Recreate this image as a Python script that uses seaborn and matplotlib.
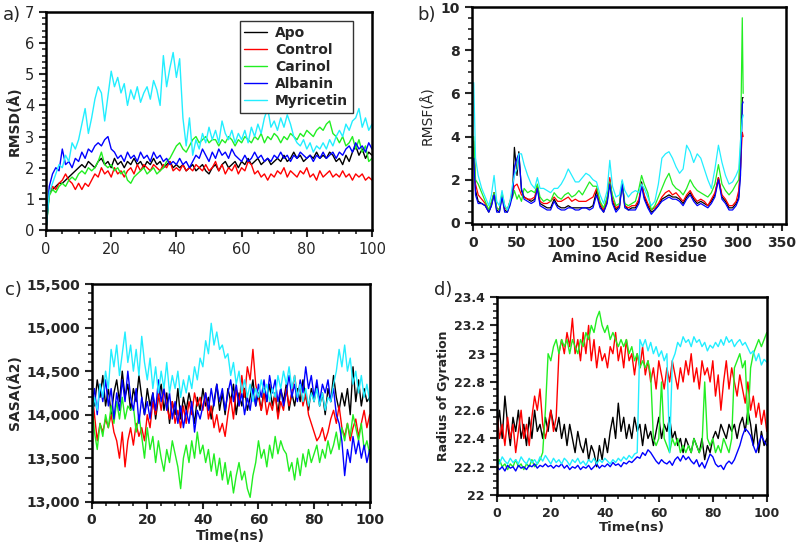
import numpy as np
import pandas as pd
import matplotlib
matplotlib.use("Agg")
import matplotlib.pyplot as plt
from matplotlib.ticker import MultipleLocator, FuncFormatter
import seaborn as sns

# ---- data ----
systems = ["Apo", "Control", "Carinol", "Albanin", "Myricetin"]
colors = ["#000000", "#ff0000", "#22ee22", "#0000ff", "#22eeff"]

time_ns = list(range(0, 101))

rmsd_apo = [0.0,1.2,1.3,1.4,1.5,1.5,1.6,1.7,1.8,1.9,2.0,2.1,2.0,2.2,2.1,2.0,2.2,2.3,2.1,2.2,
            2.0,2.3,2.1,2.2,2.0,2.2,2.1,2.3,2.1,2.2,2.0,2.2,2.1,2.3,2.1,2.2,2.0,2.1,2.2,2.0,
            2.1,2.0,2.1,1.9,2.0,2.1,1.9,2.0,2.1,1.9,1.8,2.0,2.1,1.9,2.1,2.2,2.0,2.1,2.2,2.0,
            2.2,2.1,2.3,2.1,2.2,2.3,2.1,2.2,2.3,2.1,2.2,2.3,2.2,2.4,2.2,2.3,2.5,2.3,2.4,2.2,
            2.3,2.4,2.3,2.5,2.3,2.4,2.3,2.5,2.4,2.2,2.3,2.1,2.4,2.2,2.5,2.7,2.4,2.6,2.3,2.5,2.4]
rmsd_control = [0.0,1.2,1.4,1.3,1.5,1.6,1.8,1.6,1.5,1.3,1.5,1.3,1.5,1.4,1.6,1.8,1.7,2.0,1.8,1.9,
                1.7,2.0,1.8,1.9,1.7,1.9,2.0,1.8,2.1,1.9,2.1,2.0,1.9,2.1,2.0,1.9,2.1,2.0,2.2,1.9,
                2.0,1.9,2.1,1.9,2.0,1.9,2.1,2.0,1.9,2.1,1.9,2.0,2.2,1.9,2.1,1.8,2.0,1.9,2.1,1.8,
                2.0,1.9,2.2,2.1,1.8,1.9,1.7,1.8,1.6,1.8,1.7,1.9,1.8,2.0,1.7,1.9,1.8,1.7,1.9,1.8,
                2.0,1.7,1.8,1.6,1.9,1.7,1.8,1.9,1.7,1.8,1.7,1.9,1.7,1.8,1.6,1.8,1.7,1.8,1.6,1.7,1.6]
rmsd_carinol = [0.0,1.1,1.3,1.2,1.4,1.5,1.4,1.6,1.7,1.6,1.8,1.9,1.8,2.0,1.9,2.0,2.2,2.5,2.1,2.0,
                2.1,1.9,2.0,1.8,1.9,1.6,1.5,1.7,1.8,1.9,2.0,1.8,1.9,2.0,1.8,1.9,2.0,2.2,2.3,2.5,
                2.7,2.8,2.6,2.5,2.7,2.9,3.0,2.8,2.9,3.0,2.8,2.9,2.9,2.7,2.9,2.8,3.0,2.9,2.7,2.9,
                2.8,3.0,2.9,2.8,3.0,2.9,3.1,2.8,3.0,2.9,3.1,3.0,2.8,3.0,2.9,3.1,3.0,2.9,3.1,3.0,
                3.2,3.1,3.0,3.2,3.3,3.2,3.4,3.5,3.1,3.0,2.8,3.0,2.7,2.8,3.0,2.6,2.9,2.5,2.7,2.2,2.3]
rmsd_albanin = [0.0,1.4,1.8,2.0,1.9,2.6,2.1,2.2,2.0,2.3,2.2,2.5,2.3,2.6,2.5,2.7,2.8,2.7,2.9,3.0,
                2.6,2.5,2.3,2.4,2.2,2.5,2.3,2.4,2.2,2.5,2.3,2.4,2.2,2.5,2.3,2.4,2.2,2.3,2.1,2.2,
                2.1,2.3,2.1,2.2,2.0,2.2,2.4,2.3,2.6,2.4,2.2,2.5,2.3,2.6,2.4,2.5,2.3,2.6,2.4,2.3,
                2.2,2.4,2.2,2.3,2.5,2.3,2.4,2.2,2.3,2.2,2.4,2.3,2.5,2.3,2.4,2.2,2.4,2.3,2.5,2.4,
                2.3,2.4,2.2,2.4,2.3,2.5,2.3,2.4,2.5,2.3,2.5,2.4,2.6,2.7,2.5,2.8,2.6,2.7,2.5,2.8,2.6]
rmsd_myricetin = [0.0,1.2,1.5,1.8,2.1,2.0,2.4,2.2,2.8,2.6,2.9,3.4,3.9,3.1,3.6,4.2,4.6,4.4,3.5,4.3,
                  5.1,4.6,4.9,4.4,4.7,4.0,4.5,4.2,4.6,4.1,4.4,4.6,4.2,4.8,4.5,4.0,5.6,4.6,5.2,5.7,
                  4.9,5.5,3.6,2.7,3.6,2.4,2.9,2.6,3.1,2.8,3.3,2.9,3.2,2.8,3.5,3.1,2.9,3.2,2.8,3.1,
                  2.9,3.2,2.8,3.3,3.0,3.4,3.1,3.6,3.9,3.3,3.5,3.2,3.6,3.3,3.7,3.4,3.0,2.8,2.7,2.9,
                  2.6,2.8,2.5,2.7,2.6,2.8,2.6,2.9,2.7,3.0,3.2,3.0,3.4,3.2,3.5,3.6,3.9,3.3,3.6,3.2,3.4]

residue = [1,3,6,10,14,18,21,24,27,30,33,36,39,42,45,47,50,52,55,58,
           62,66,70,73,76,80,84,88,92,96,100,104,108,112,116,120,124,128,132,136,
           140,144,148,152,155,158,162,166,169,172,176,180,184,188,191,194,198,202,206,210,
           214,218,222,226,230,234,238,242,246,250,254,258,262,266,270,274,278,282,286,290,
           294,298,301,303,305,306]
rmsf_apo = [3.5,1.5,1.0,0.9,0.8,0.5,0.8,1.4,0.6,0.5,1.3,0.6,0.5,0.9,1.5,3.5,2.2,3.3,1.5,1.2,
            1.1,1.0,1.1,1.7,0.9,0.8,0.7,0.7,1.1,0.8,0.7,0.7,0.8,0.7,0.7,0.7,0.7,0.7,0.7,0.8,
            1.5,0.8,0.5,1.0,2.0,1.0,0.6,0.8,1.9,0.8,0.6,0.7,0.7,1.0,1.9,1.2,0.8,0.5,0.6,0.8,
            1.1,1.2,1.3,1.2,1.2,1.1,0.9,1.2,1.4,1.1,0.9,1.0,0.9,0.8,1.0,1.3,2.1,1.2,1.0,0.7,
            0.7,0.9,1.2,2.5,5.8,5.8]
rmsf_control = [3.8,1.8,1.3,1.1,0.9,0.6,0.9,1.4,0.7,0.6,1.3,0.7,0.6,1.0,1.4,1.7,1.8,1.6,1.3,1.2,
                1.1,1.1,1.2,1.7,1.0,0.9,0.9,1.0,1.2,1.0,1.0,1.1,1.2,1.0,1.1,1.0,1.0,1.0,1.1,1.2,
                1.6,0.9,0.6,1.1,2.1,1.1,0.7,0.8,1.9,0.8,0.7,0.8,0.8,1.1,1.8,1.3,0.9,0.6,0.7,0.9,
                1.2,1.4,1.5,1.3,1.4,1.2,1.0,1.3,1.5,1.2,1.0,1.1,1.0,0.8,1.1,1.4,2.1,1.3,1.1,0.8,
                0.8,1.0,1.5,2.6,4.2,4.0]
rmsf_carinol = [4.0,2.0,1.8,1.4,1.0,0.6,1.0,1.4,0.7,0.6,1.4,0.8,0.6,1.0,1.2,1.5,1.1,1.3,1.0,1.6,
                1.4,1.5,1.4,1.8,1.2,1.0,1.1,1.0,1.4,1.2,1.1,1.3,1.4,1.2,1.3,1.5,1.3,1.6,1.9,1.7,
                1.7,1.0,0.7,1.2,1.9,1.3,0.8,0.9,1.9,0.9,0.8,0.9,1.0,1.6,2.2,1.8,1.4,0.6,0.8,1.2,
                1.6,2.0,2.3,1.8,1.6,1.5,1.3,1.6,2.0,1.7,1.5,1.4,1.3,1.2,1.4,1.8,2.7,1.8,1.5,1.3,
                1.5,1.8,2.0,3.5,9.5,6.0]
rmsf_albanin = [3.0,1.3,0.9,0.9,0.8,0.5,0.8,1.3,0.5,0.5,1.2,0.5,0.5,0.8,1.3,2.6,3.0,3.2,1.6,1.1,
                1.0,0.9,1.0,1.6,0.8,0.7,0.6,0.6,1.0,0.7,0.6,0.6,0.7,0.7,0.6,0.6,0.7,0.7,0.6,0.7,
                1.3,0.7,0.5,0.9,1.8,0.9,0.5,0.7,1.8,0.7,0.6,0.6,0.6,0.9,1.7,1.1,0.7,0.4,0.6,0.8,
                1.0,1.1,1.2,1.1,1.1,1.0,0.8,1.1,1.3,1.0,0.8,0.9,0.8,0.7,0.9,1.2,2.0,1.1,0.9,0.6,
                0.6,0.8,1.1,2.2,5.5,5.6]
rmsf_myricetin = [6.5,3.0,2.2,1.6,1.2,0.8,1.3,2.2,1.0,0.8,1.5,0.8,0.6,1.0,1.8,2.2,2.5,3.2,3.2,2.7,
                  2.2,1.8,1.6,2.1,1.6,1.6,1.5,1.4,1.6,1.6,1.8,2.1,2.5,2.2,1.9,1.9,2.1,2.3,2.2,2.0,
                  1.9,1.3,0.9,1.5,2.9,1.7,1.2,1.3,2.0,1.5,1.2,1.4,1.5,1.4,1.8,1.6,1.2,0.8,1.0,1.8,
                  3.0,3.2,3.3,3.0,2.6,2.3,2.5,3.6,3.3,2.8,3.2,3.0,2.5,2.0,1.6,2.5,3.6,2.8,2.2,1.8,
                  1.9,2.2,2.5,3.8,4.8,5.0]

sasa_apo = [14300,14100,14400,14200,14450,14100,14300,14000,14250,14400,14150,14500,14200,14350,14050,14300,14150,14450,14200,14000,
            14300,14100,14250,13950,14200,14350,14050,14250,13900,14150,14000,14300,13950,14200,14050,14250,14100,13900,14200,14050,
            14300,14100,14200,13950,14150,14350,14050,14250,14000,14300,14150,14350,14000,14250,14100,14300,14050,14200,14400,14100,
            14250,14050,14300,14150,14350,14100,14250,14000,14300,14150,14350,14050,14250,14100,14300,14150,14400,14200,14050,14300,
            14150,14350,14100,14250,14000,14300,14150,14450,14200,14050,14250,14100,14300,14000,14550,14150,14400,14100,14300,14150,14200]
sasa_control = [14300,14000,13700,13900,13800,13950,13850,14000,13800,13700,13500,13800,13400,13700,13850,13650,13900,13750,13850,13700,
                14000,13850,14150,14000,14250,14050,14300,14100,13950,14150,13900,14050,13850,14100,13900,14150,14000,14250,14100,14200,
                14050,14250,13950,14100,13850,14000,13800,13900,13750,14000,14200,13950,14300,14100,14450,14200,14550,14400,14750,14350,
                14200,14050,14250,14000,14150,14050,14250,13950,14150,14050,14300,14100,14250,14450,14200,14350,14100,14250,14000,13900,
                13800,13700,13750,13850,13700,13800,13950,14050,13900,14100,13850,13750,13900,13700,13850,13950,13750,13900,14050,13850,14000]
sasa_carinol = [14200,13800,13600,13900,13750,14000,13850,14100,13900,14150,13950,14200,13950,14100,14050,14100,13800,14000,13750,13500,
                13850,13600,13750,13450,13700,13500,13350,13600,13450,13700,13550,13400,13150,13500,13650,13450,13700,13500,13800,13550,
                13650,13450,13600,13350,13550,13300,13500,13250,13450,13200,13350,13100,13300,13450,13250,13350,13150,13050,13300,13450,
                13700,13500,13600,13400,13650,13500,13750,13550,13700,13600,13550,13350,13450,13250,13500,13300,13550,13400,13600,13450,
                13550,13650,13450,13600,13500,13700,13550,13650,13800,13600,13850,13700,13900,13750,14000,13850,13700,13900,13600,13700,13550]
sasa_albanin = [14100,14300,14000,14350,14150,14400,14100,14300,13950,14250,14050,14400,14150,14500,14200,14050,14300,13900,14200,14000,
                14150,13950,14250,14050,14400,14150,14300,14050,14250,13950,14150,13900,14100,13850,14050,13900,14150,13800,14050,13950,
                14100,14250,14050,14300,14100,14350,14150,14300,14050,14250,14400,14150,14350,14100,14250,14000,14200,14050,14300,14100,
                14350,14200,14400,14150,14450,14250,14400,14150,14300,14100,14250,14450,14200,14350,14150,14400,14250,14550,14300,14450,
                14200,14400,14150,14350,14250,14400,14150,14300,14000,13900,13700,13300,13600,13450,13750,13550,13700,13500,13650,13450,13600]
sasa_myricetin = [13900,14200,14050,14350,14200,14500,14300,14750,14550,14800,14450,14700,14950,14600,14800,14500,14750,14450,14900,14600,
                  14400,14650,14300,14550,14250,14500,14300,14600,14250,14450,14300,14500,14200,14400,14250,14450,14300,14550,14400,14650,
                  14550,14850,14700,15050,14800,14950,14750,14800,14650,14700,14450,14600,14350,14500,14250,14400,14200,14350,14150,14300,
                  14200,14400,14250,14350,14150,14300,14200,14450,14300,14500,14350,14550,14300,14450,14200,14350,14150,14300,14100,14250,
                  14150,14300,14100,14250,14050,14200,14150,14350,14500,14750,14550,14800,14500,14650,14350,14500,14250,14450,14200,14350,14150]

rg_apo = [22.45,22.6,22.4,22.7,22.5,22.35,22.55,22.45,22.6,22.4,22.5,22.35,22.55,22.4,22.6,22.45,22.5,22.4,22.55,22.45,
          22.6,22.5,22.45,22.55,22.4,22.5,22.35,22.5,22.4,22.3,22.45,22.35,22.3,22.4,22.25,22.35,22.3,22.2,22.35,22.25,
          22.4,22.3,22.45,22.55,22.4,22.65,22.45,22.55,22.4,22.5,22.4,22.55,22.45,22.5,22.35,22.5,22.4,22.45,22.35,22.45,
          22.55,22.4,22.5,22.45,22.55,22.4,22.45,22.35,22.4,22.3,22.4,22.35,22.3,22.4,22.35,22.3,22.4,22.25,22.35,22.3,
          22.4,22.45,22.4,22.5,22.45,22.4,22.5,22.45,22.5,22.4,22.5,22.55,22.45,22.6,22.5,22.35,22.5,22.3,22.45,22.35,22.4]
rg_control = [22.6,22.4,22.5,22.35,22.55,22.4,22.5,22.3,22.45,22.6,22.4,22.5,22.35,22.55,22.7,22.6,22.75,22.5,22.4,22.5,
              22.6,22.45,22.55,23.0,23.1,23.0,23.15,23.05,23.25,23.0,23.1,22.95,23.15,23.0,23.2,22.95,23.1,22.9,23.05,22.95,
              23.0,22.9,23.05,23.0,23.15,22.95,23.05,22.9,23.1,22.95,23.0,22.85,23.0,22.9,23.05,22.85,22.95,22.8,22.9,22.75,
              22.95,22.85,22.75,22.9,22.8,22.95,22.85,22.75,22.9,22.8,22.95,22.85,23.0,22.8,22.9,22.75,22.95,22.85,22.9,22.8,
              22.95,22.7,22.85,22.6,22.8,22.95,22.75,22.9,22.8,22.7,22.85,22.75,22.65,22.8,22.6,22.7,22.55,22.65,22.5,22.6,22.45]
rg_carinol = [22.2,22.25,22.2,22.22,22.18,22.22,22.2,22.25,22.2,22.22,22.18,22.22,22.2,22.25,22.2,22.22,22.25,22.3,22.6,23.0,
              22.95,23.05,23.1,23.0,23.1,23.05,23.1,23.0,23.1,23.05,23.0,23.1,23.05,23.15,23.1,23.2,23.15,23.25,23.3,23.2,
              23.15,23.2,23.1,23.15,23.1,23.05,23.1,23.05,23.1,23.0,23.05,22.95,23.0,22.9,22.95,22.9,22.95,22.85,22.4,22.35,
              22.4,22.8,22.4,22.35,22.3,22.4,22.35,22.4,22.3,22.35,22.3,22.35,22.3,22.4,22.35,22.3,22.35,22.8,22.4,22.35,
              22.4,22.3,22.35,22.3,22.4,22.35,22.3,22.4,22.9,22.95,23.0,22.9,22.95,22.5,22.9,23.0,23.05,23.1,23.05,23.1,23.15]
rg_albanin = [22.2,22.18,22.2,22.17,22.21,22.19,22.2,22.17,22.21,22.19,22.2,22.18,22.21,22.2,22.22,22.19,22.21,22.2,22.22,22.2,
              22.21,22.19,22.21,22.2,22.22,22.19,22.21,22.18,22.2,22.19,22.21,22.18,22.2,22.19,22.21,22.18,22.2,22.22,22.19,22.21,
              22.2,22.22,22.2,22.23,22.21,22.22,22.2,22.23,22.22,22.24,22.23,22.25,22.27,22.26,22.3,22.28,22.32,22.3,22.27,22.24,
              22.22,22.25,22.23,22.22,22.24,22.21,22.25,22.27,22.24,22.28,22.25,22.27,22.24,22.22,22.25,22.2,22.23,22.19,22.24,22.29,
              22.27,22.22,22.2,22.21,22.18,22.22,22.24,22.22,22.25,22.3,22.35,22.42,22.47,22.45,22.42,22.35,22.3,22.36,22.42,22.38,22.35]
rg_myricetin = [22.25,22.22,22.27,22.24,22.22,22.26,22.23,22.25,22.22,22.27,22.24,22.22,22.26,22.23,22.25,22.22,22.27,22.24,22.28,22.25,
                22.22,22.26,22.23,22.25,22.22,22.26,22.24,22.21,22.25,22.23,22.26,22.22,22.24,22.21,22.25,22.23,22.26,22.22,22.25,22.23,
                22.26,22.24,22.22,22.25,22.23,22.26,22.24,22.27,22.25,22.28,22.26,22.29,22.3,23.1,23.05,23.1,23.02,23.08,23.0,23.05,
                22.98,23.02,22.95,23.0,22.3,22.95,23.0,23.08,23.05,23.12,23.08,23.1,23.05,23.12,23.08,23.1,23.05,23.08,23.02,23.06,
                23.04,23.08,23.05,23.1,23.06,23.12,23.08,23.1,23.05,23.08,23.1,23.06,23.08,23.04,23.0,23.02,22.95,23.0,22.92,22.96,22.94]


def long_table(x, series, xname, yname):
    frames = []
    for name, vals in zip(systems, series):
        frames.append(pd.DataFrame({xname: x, yname: vals, "System": name}))
    return pd.concat(frames, ignore_index=True)


df_rmsd = long_table(time_ns, [rmsd_apo, rmsd_control, rmsd_carinol, rmsd_albanin, rmsd_myricetin], "Time", "RMSD")
df_rmsf = long_table(residue, [rmsf_apo, rmsf_control, rmsf_carinol, rmsf_albanin, rmsf_myricetin], "Residue", "RMSF")
df_sasa = long_table(time_ns, [sasa_apo, sasa_control, sasa_carinol, sasa_albanin, sasa_myricetin], "Time", "SASA")
df_rg = long_table(time_ns, [rg_apo, rg_control, rg_carinol, rg_albanin, rg_myricetin], "Time", "Rg")

sns.set_style("ticks")
plt.rcParams['font.family'] = ['DejaVu Sans']
pal = dict(zip(systems, colors))

fig = plt.figure(figsize=(8, 5.48), dpi=100)
ax_a = fig.add_axes([0.0575, 0.5803, 0.4075, 0.3978])
ax_b = fig.add_axes([0.5900, 0.5912, 0.3925, 0.3960])
ax_c = fig.add_axes([0.1146, 0.0845, 0.3475, 0.3970])
ax_d = fig.add_axes([0.6210, 0.0967, 0.3375, 0.3610])


def style_axes(ax, bold_ticks=True, size=10):
    for sp in ax.spines.values():
        sp.set_visible(True)
        sp.set_linewidth(1.8)
        sp.set_color("black")
    ax.tick_params(which="major", direction="out", length=5, width=1.5, labelsize=size, top=False, right=False)
    ax.tick_params(which="minor", direction="out", length=3, width=1.2, top=False, right=False)
    for lab in ax.get_xticklabels() + ax.get_yticklabels():
        lab.set_fontweight("bold" if bold_ticks else "normal")


# a) RMSD
sns.lineplot(data=df_rmsd, x="Time", y="RMSD", hue="System", palette=pal, lw=1.0,
             estimator=None, sort=False, ax=ax_a)
ax_a.set_xlim(0, 100)
ax_a.set_ylim(0, 7)
ax_a.xaxis.set_major_locator(MultipleLocator(20))
ax_a.xaxis.set_minor_locator(MultipleLocator(5))
ax_a.yaxis.set_major_locator(MultipleLocator(1))
ax_a.yaxis.set_minor_locator(MultipleLocator(0.2))
ax_a.set_xlabel("")
ax_a.set_ylabel("RMSD(Å)", fontsize=10, fontweight="bold", labelpad=2)
style_axes(ax_a, bold_ticks=False, size=10.5)
leg = ax_a.legend(loc="upper right", bbox_to_anchor=(0.963, 0.99), fancybox=False, framealpha=1,
                  edgecolor="#333333", prop={"weight": "bold", "size": 10}, handlelength=1.6,
                  borderpad=0.35, labelspacing=0.22, handletextpad=0.6)
leg.get_frame().set_linewidth(1.0)
for line in leg.get_lines():
    line.set_linewidth(1.0)

# b) RMSF
sns.lineplot(data=df_rmsf, x="Residue", y="RMSF", hue="System", palette=pal, lw=0.9,
             estimator=None, sort=False, legend=False, ax=ax_b)
ax_b.set_xlim(-1, 354.5)
ax_b.set_ylim(-0.05, 10)
ax_b.xaxis.set_major_locator(MultipleLocator(50))
ax_b.xaxis.set_minor_locator(MultipleLocator(10))
ax_b.yaxis.set_major_locator(MultipleLocator(2))
ax_b.yaxis.set_minor_locator(MultipleLocator(0.5))
ax_b.set_xlabel("Amino Acid Residue", fontsize=10, fontweight="bold", labelpad=1)
ax_b.set_ylabel("RMSF(Å)", fontsize=10, labelpad=4)
style_axes(ax_b, size=10)

# c) SASA
sns.lineplot(data=df_sasa, x="Time", y="SASA", hue="System", palette=pal, lw=1.0,
             estimator=None, sort=False, legend=False, ax=ax_c)
ax_c.set_xlim(0, 100)
ax_c.set_ylim(13000, 15500)
ax_c.xaxis.set_major_locator(MultipleLocator(20))
ax_c.xaxis.set_minor_locator(MultipleLocator(5))
ax_c.yaxis.set_major_locator(MultipleLocator(500))
ax_c.yaxis.set_minor_locator(MultipleLocator(100))
ax_c.yaxis.set_major_formatter(FuncFormatter(lambda v, p: f"{int(round(v)):,}"))
ax_c.set_xlabel("Time(ns)", fontsize=10, fontweight="bold", labelpad=1)
ax_c.set_ylabel("SASA(Å2)", fontsize=10, fontweight="bold", labelpad=3)
style_axes(ax_c, size=10)

# d) Radius of gyration
sns.lineplot(data=df_rg, x="Time", y="Rg", hue="System", palette=pal, lw=1.0,
             estimator=None, sort=False, legend=False, ax=ax_d)
ax_d.set_xlim(0, 100)
ax_d.set_ylim(22, 23.4)
ax_d.xaxis.set_major_locator(MultipleLocator(20))
ax_d.xaxis.set_minor_locator(MultipleLocator(5))
ax_d.yaxis.set_major_locator(MultipleLocator(0.2))
ax_d.yaxis.set_minor_locator(MultipleLocator(0.05))
ax_d.yaxis.set_major_formatter(FuncFormatter(lambda v, p: f"{round(v, 2):g}"))
ax_d.set_xlabel("Time(ns)", fontsize=9.5, fontweight="bold", labelpad=1)
ax_d.set_ylabel("Radius of Gyration", fontsize=9, fontweight="bold", labelpad=3)
style_axes(ax_d, size=9)

# panel letters
fig.text(0.003, 0.972, "a)", fontsize=13, va="center")
fig.text(0.522, 0.972, "b)", fontsize=13, va="center")
fig.text(0.006, 0.470, "c)", fontsize=13, va="center")
fig.text(0.543, 0.470, "d)", fontsize=13, va="center")

fig.savefig("out.png", dpi=100)
